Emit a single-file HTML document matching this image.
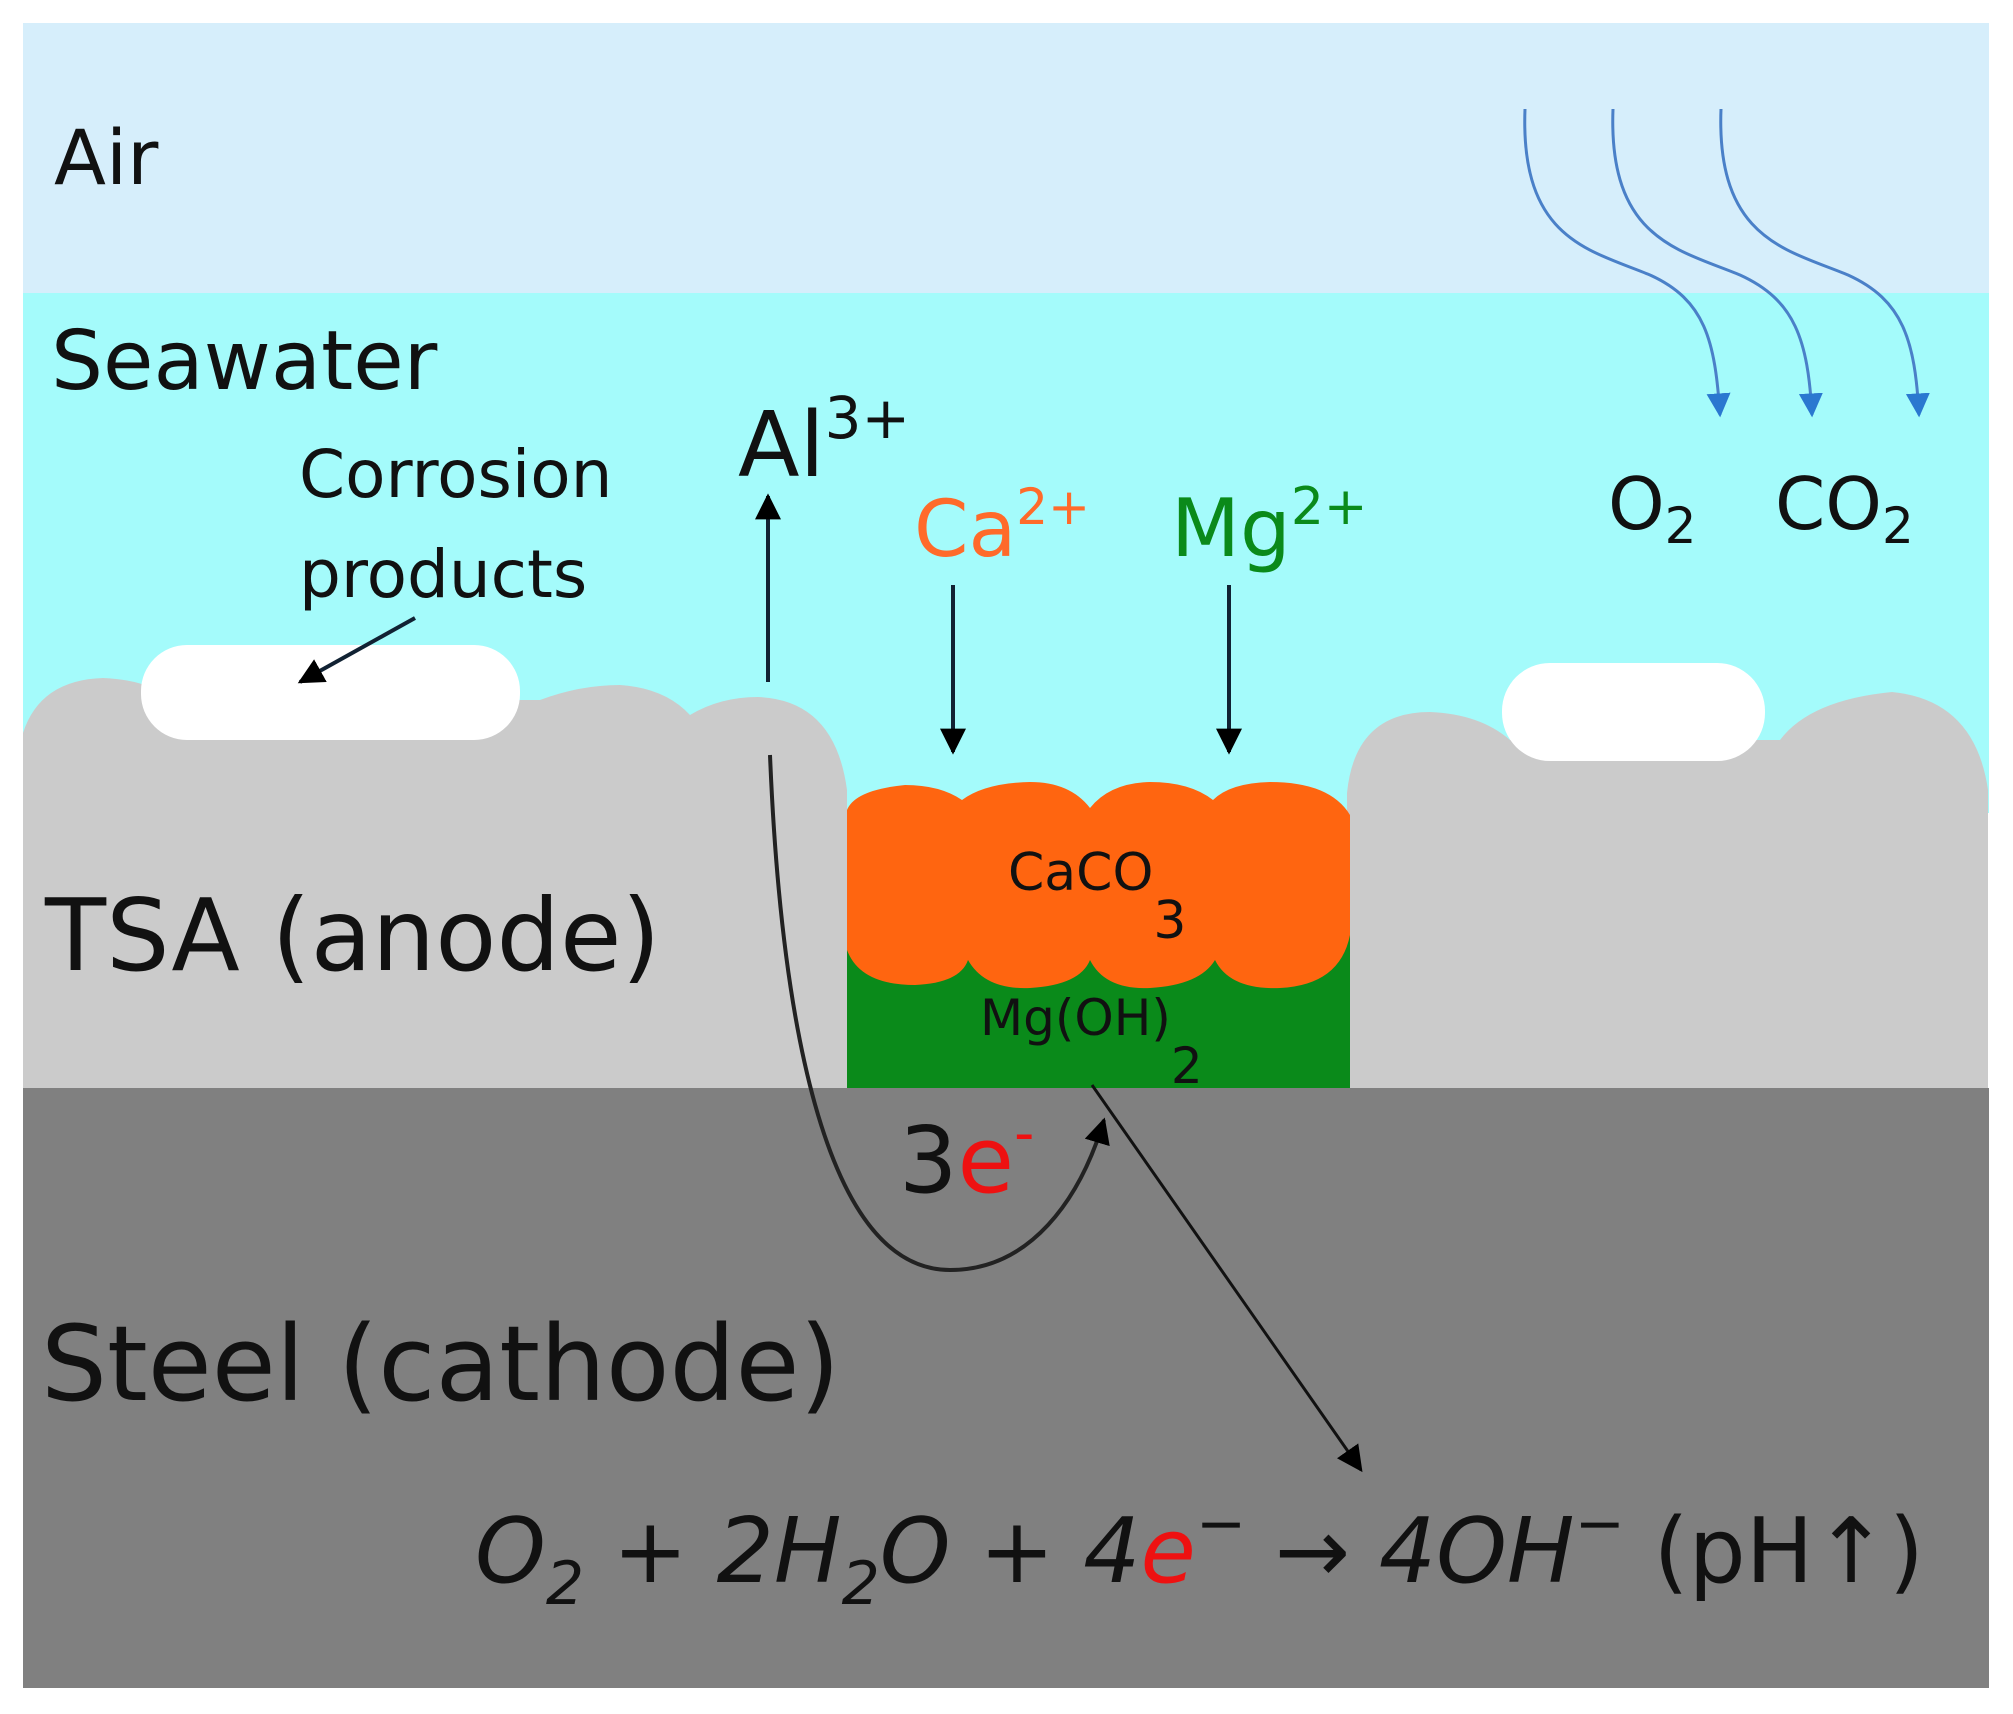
<!DOCTYPE html>
<html><head><meta charset="utf-8"><style>
html,body{margin:0;padding:0;background:#fff;}
svg{display:block;}
text{font-family:"DejaVu Sans","Liberation Sans",sans-serif;}
</style></head><body>
<svg width="2013" height="1714" viewBox="0 0 2013 1714" xmlns="http://www.w3.org/2000/svg">
<defs>
<marker id="ak" viewBox="0 0 10 10" refX="9" refY="5" markerWidth="26" markerHeight="26" orient="auto" markerUnits="userSpaceOnUse"><path d="M0,0 L10,5 L0,10 z" fill="#000"/></marker>
<marker id="bl" viewBox="0 0 10 10" refX="9" refY="5" markerWidth="24" markerHeight="24" orient="auto" markerUnits="userSpaceOnUse"><path d="M0,0 L10,5 L0,10 z" fill="#2a78d0"/></marker>
</defs>
<rect x="23" y="23" width="1966" height="270" fill="#d6eefb"/>
<rect x="23" y="293" width="1966" height="520" fill="#a4fbfb"/>
<path d="M23,733 Q40,680 103,678 Q150,680 170,700 L540,700 Q580,685 620,685 Q665,688 690,715 Q720,697 758,697 Q835,700 847,790 L847,1090 L23,1090 Z" fill="#cbcbcb"/>
<path d="M1347,793 Q1355,712 1430,712 Q1480,714 1510,740 L1780,740 Q1810,700 1892,692 Q1975,700 1988,790 L1988,1090 L1347,1090 Z" fill="#cbcbcb"/>
<rect x="141" y="645" width="379" height="95" rx="46" fill="#fff"/>
<rect x="1502" y="663" width="263" height="98" rx="48" fill="#fff"/>
<rect x="847" y="930" width="503" height="160" fill="#0a8a1a"/>
<path d="M847,950 Q860,985 915,985 Q960,983 968,960 Q985,990 1030,988 Q1080,985 1090,960 Q1105,990 1150,988 Q1200,985 1215,960 Q1230,990 1280,988 Q1340,985 1350,935 L1350,815 Q1330,782 1270,782 Q1230,783 1213,800 Q1190,782 1150,782 Q1110,783 1090,808 Q1070,782 1030,782 Q985,783 962,800 Q940,785 905,785 Q855,790 847,810 Z" fill="#ff6510"/>
<rect x="23" y="1088" width="1966" height="600" fill="#808080"/>
<text x="54" y="184" font-size="76" fill="#111">Air</text>
<text x="51" y="389" font-size="82" fill="#111">Seawater</text>
<text x="738" y="476" font-size="90" fill="#111">Al<tspan font-size="58" dy="-38">3+</tspan></text>
<text x="299" y="497" font-size="66" fill="#111">Corrosion</text>
<text x="299" y="597" font-size="66" fill="#111">products</text>
<text x="914" y="556" font-size="78" fill="#ff6a2a">Ca<tspan font-size="50" dy="-32">2+</tspan></text>
<text x="1171" y="556" font-size="80" fill="#0a8a1a">Mg<tspan font-size="52" dy="-32">2+</tspan></text>
<text x="1608" y="529" font-size="72" fill="#111">O<tspan font-size="50" dy="14">2</tspan></text>
<text x="1775" y="529" font-size="72" fill="#111">CO<tspan font-size="50" dy="14">2</tspan></text>
<text x="1008" y="890" font-size="52" fill="#111">CaCO<tspan font-size="52" dy="48">3</tspan></text>
<text x="980" y="1035" font-size="50" fill="#111">Mg(OH)<tspan font-size="50" dy="48">2</tspan></text>
<text x="45" y="970" font-size="100" fill="#111">TSA (anode)</text>
<text x="41" y="1400" font-size="104" fill="#111">Steel (cathode)</text>
<text x="899" y="1192" font-size="92" fill="#111">3<tspan fill="#ee1111">e</tspan><tspan fill="#ee1111" font-size="56" dy="-40">-</tspan></text>
<text x="475" y="1582" font-size="90" fill="#111" font-family="'DejaVu Serif','Liberation Serif',serif" font-style="italic">O<tspan font-size="60" dy="22">2</tspan><tspan dy="-22"> + 2H</tspan><tspan font-size="60" dy="22">2</tspan><tspan dy="-22">O + 4</tspan><tspan fill="#ee1111">e</tspan><tspan font-style="normal" font-size="60" dy="-38">−</tspan><tspan dy="38" font-style="normal"> → </tspan>4OH<tspan font-style="normal" font-size="60" dy="-38">−</tspan><tspan dy="38" font-style="normal" font-family="'DejaVu Sans',sans-serif"> (pH↑)</tspan></text>
<line x1="768" y1="682" x2="768" y2="496" stroke="#123" stroke-width="4" marker-end="url(#ak)"/>
<line x1="953" y1="585" x2="953" y2="752" stroke="#123" stroke-width="4" marker-end="url(#ak)"/>
<line x1="1229" y1="585" x2="1229" y2="752" stroke="#123" stroke-width="4" marker-end="url(#ak)"/>
<line x1="415" y1="618" x2="300" y2="682" stroke="#123" stroke-width="4" marker-end="url(#ak)"/>
<path d="M770,755 C780,1000 820,1270 950,1270 C1030,1270 1080,1200 1104,1120" fill="none" stroke="#222" stroke-width="4" marker-end="url(#ak)"/>
<line x1="1092" y1="1085" x2="1361" y2="1470" stroke="#111" stroke-width="3" marker-end="url(#ak)"/>
<path d="M1525,109 C1520,240 1590,250 1650,275 C1705,300 1715,340 1720,415" fill="none" stroke="#4a80c8" stroke-width="3" marker-end="url(#bl)"/>
<path d="M1613,109 C1608,240 1680,250 1740,275 C1795,300 1808,340 1812,415" fill="none" stroke="#4a80c8" stroke-width="3" marker-end="url(#bl)"/>
<path d="M1721,109 C1716,240 1788,250 1848,275 C1903,300 1915,340 1919,415" fill="none" stroke="#4a80c8" stroke-width="3" marker-end="url(#bl)"/>
</svg>
</body></html>
